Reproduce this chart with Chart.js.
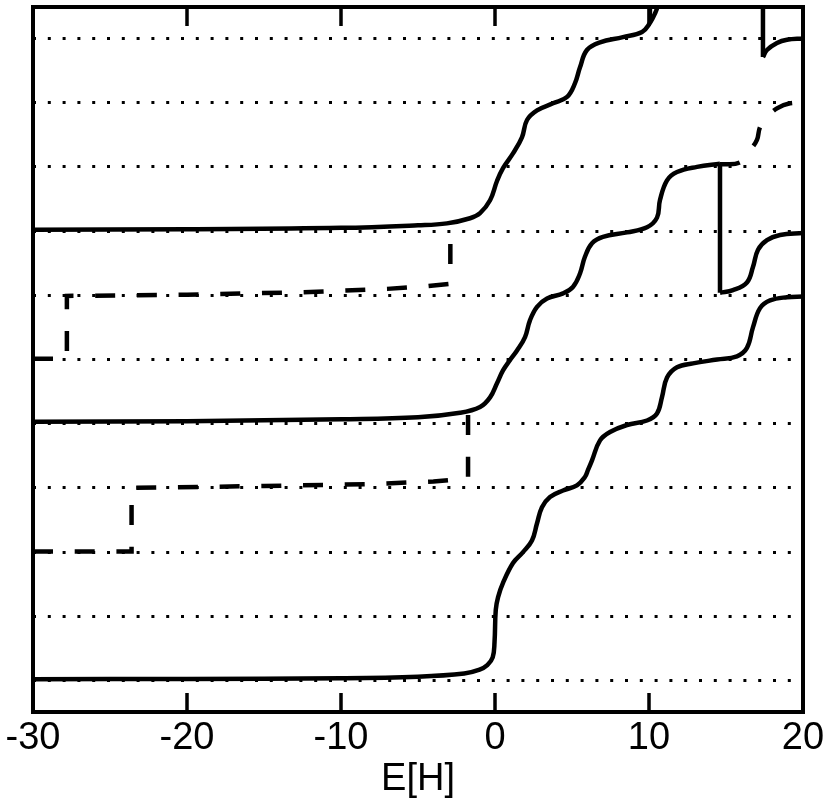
<!DOCTYPE html>
<html>
<head>
<meta charset="utf-8">
<script src="https://cdn.jsdelivr.net/npm/chart.js@4.4.0/dist/chart.umd.min.js"></script>
<style>
    html, body { margin: 0; padding: 0; background: #ffffff; }
</style>
</head>
<body>
<canvas id="chart_fase" width="830" height="809"></canvas>
<script>
// Marcas de los ejes
var xTicks = [-30, -20, -10, 0, 10, 20];
var yNiveles = [0, 1, 2, 3, 4, 5, 6, 7, 8, 9, 10];

// Curva continua de abajo (nivel 0)
var curvaA_x = [-30, -20, -10, -5, -2, -1, -0.5, -0.15, -0.03, 0.05, 0.2, 0.52, 1.17, 1.82, 2.4, 2.73, 3.05, 3.57, 4.42, 5.32, 5.84, 6.04, 6.3, 6.82, 7.47, 8.57, 9.87, 10.52, 10.84, 11.17, 11.82, 12.86, 14.42, 15.71, 16.36, 16.75, 17.21, 17.86, 18.96, 20];
var curvaA_y = [0.02, 0.025, 0.035, 0.06, 0.11, 0.17, 0.24, 0.36, 0.6, 1.1, 1.3, 1.52, 1.83, 2.0, 2.18, 2.45, 2.7, 2.86, 2.96, 3.04, 3.17, 3.28, 3.43, 3.74, 3.87, 3.98, 4.05, 4.16, 4.41, 4.72, 4.88, 4.94, 5.0, 5.05, 5.18, 5.5, 5.8, 5.92, 5.97, 5.98];

// Curva continua del medio (nivel 4), cortada en el salto de E = 14.6
var curvaB_x = [-30, -20, -10, -5, -2.27, -0.97, -0.32, 0.13, 0.52, 0.97, 1.43, 1.95, 2.27, 2.73, 3.38, 4.42, 5.06, 5.52, 5.84, 6.3, 7.01, 8.57, 9.87, 10.52, 10.71, 11.17, 11.82, 13.12, 14.61];
var curvaB_y = [4.03, 4.04, 4.07, 4.1, 4.17, 4.26, 4.41, 4.63, 4.83, 4.99, 5.14, 5.35, 5.61, 5.82, 5.95, 6.03, 6.13, 6.34, 6.6, 6.81, 6.91, 6.98, 7.06, 7.21, 7.48, 7.79, 7.92, 8.0, 8.05];
var saltoB_x = [14.61, 14.61];
var saltoB_y = [8.05, 6.04];
var colaB_x = [14.61, 15.45, 16.36, 16.75, 17.08, 17.66, 18.51, 20];
var colaB_y = [6.04, 6.08, 6.2, 6.44, 6.71, 6.86, 6.94, 6.97];

// Curva continua de arriba (nivel 7), sale por arriba y vuelve a entrar
var curvaC_x = [-30, -20, -10, -5, -3.12, -1.62, -0.97, -0.32, 0.13, 0.52, 1.17, 1.75, 2.08, 2.73, 3.77, 4.68, 5.19, 5.52, 5.97, 6.82, 8.31, 9.55, 10.06, 10.39, 10.58, 10.75];
var curvaC_y = [7.02, 7.03, 7.05, 7.09, 7.12, 7.2, 7.28, 7.48, 7.78, 7.98, 8.21, 8.46, 8.73, 8.88, 8.99, 9.09, 9.3, 9.55, 9.82, 9.94, 10.02, 10.1, 10.24, 10.39, 10.52, 10.8];
var saltoC_x = [10.06, 10.06];
var saltoC_y = [10.24, 10.8];
var colaC_x = [17.4, 17.4];
var colaC_y = [10.8, 9.71];
var finC_x = [17.4, 17.66, 18.31, 18.96, 20];
var finC_y = [9.71, 9.82, 9.93, 9.98, 10.0];

// Curvas discontinuas
var curvaD_x = [-30, -27.8, -27.8, -20, -12, -7, -4.5, -2.9, -2.9];
var curvaD_y = [5.01, 5.01, 5.99, 6.01, 6.05, 6.1, 6.14, 6.18, 7.05];
var colaD_x = [14.61, 15.91, 16.56, 17.01, 17.21, 17.66, 18.31, 19.16, 20];
var colaD_y = [8.04, 8.07, 8.26, 8.42, 8.62, 8.77, 8.91, 8.99, 8.99];
var curvaE_x = [-30, -23.6, -23.6, -15, -8, -4, -1.75, -1.75];
var curvaE_y = [2.01, 2.01, 3.0, 3.03, 3.06, 3.1, 3.15, 4.17];

var fuente = "'Liberation Sans', Arial, sans-serif";
var guion = [20, 21.7];

function unirPuntos(xs, ys) {
    var puntos = [];
    for (var i = 0; i < xs.length; i++) {
        puntos.push({ x: xs[i], y: ys[i] });
    }
    return puntos;
}

function serie(xs, ys, guiones, tension) {
    return {
        data: unirPuntos(xs, ys),
        borderColor: '#000000',
        borderWidth: 4.5,
        borderDash: guiones,
        borderCapStyle: 'butt',
        borderJoinStyle: 'miter',
        pointRadius: 0,
        fill: false,
        tension: tension,
        clip: 0
    };
}

// Marco con las marcas hacia adentro
var marcoPlugin = {
    id: 'marco',
    afterDatasetsDraw: function (chart) {
        var ctx = chart.ctx;
        var area = chart.chartArea;
        var escalaX = chart.scales.x;
        ctx.save();
        ctx.strokeStyle = '#000000';
        ctx.lineWidth = 4;
        ctx.setLineDash([]);
        ctx.strokeRect(area.left, area.top, area.right - area.left, area.bottom - area.top);
        ctx.lineWidth = 3.5;
        for (var i = 1; i < xTicks.length - 1; i++) {
            var px = escalaX.getPixelForValue(xTicks[i]);
            ctx.beginPath();
            ctx.moveTo(px, area.bottom);
            ctx.lineTo(px, area.bottom - 19);
            ctx.moveTo(px, area.top);
            ctx.lineTo(px, area.top + 19);
            ctx.stroke();
        }
        ctx.restore();
    }
};

var config_fase = {
    type: 'line',
    data: {
        datasets: [
            serie(curvaA_x, curvaA_y, [], 0.4),
            serie(curvaB_x, curvaB_y, [], 0.4),
            serie(saltoB_x, saltoB_y, [], 0),
            serie(colaB_x, colaB_y, [], 0.4),
            serie(curvaC_x, curvaC_y, [], 0.4),
            serie(saltoC_x, saltoC_y, [], 0),
            serie(colaC_x, colaC_y, [], 0),
            serie(finC_x, finC_y, [], 0.4),
            serie(curvaD_x, curvaD_y, guion, 0),
            serie(colaD_x, colaD_y, guion, 0.4),
            serie(curvaE_x, curvaE_y, guion, 0)
        ]
    },
    options: {
        responsive: false,
        animation: false,
        layout: {
            padding: { left: 33, right: 27, top: 7, bottom: 0 }
        },
        plugins: {
            legend: { display: false },
            tooltip: { enabled: false }
        },
        scales: {
            x: {
                type: 'linear',
                min: -30,
                max: 20,
                afterBuildTicks: function (axis) {
                    axis.ticks = xTicks.map(function (v) { return { value: v }; });
                },
                afterFit: function (axis) {
                    axis.height = 97;
                },
                grid: { display: false, drawTicks: false },
                border: { display: false },
                ticks: {
                    color: '#000000',
                    padding: 4,
                    maxRotation: 0,
                    autoSkip: false,
                    font: { family: fuente, size: 38 },
                    callback: function (v) { return String(v); }
                },
                title: {
                    display: true,
                    text: 'E[H]',
                    color: '#000000',
                    font: { family: fuente, size: 38 },
                    padding: { top: 0, bottom: 7 }
                }
            },
            y: {
                type: 'linear',
                min: -0.49,
                max: 10.49,
                afterBuildTicks: function (axis) {
                    axis.ticks = yNiveles.map(function (v) { return { value: v }; });
                },
                ticks: { display: false },
                grid: { color: '#000000', lineWidth: 3, drawTicks: false },
                border: { display: false, dash: [3, 11.8] }
            }
        }
    },
    plugins: [marcoPlugin]
};

var canvas_fase = document.getElementById('chart_fase');
var chart_fase = new Chart(canvas_fase, config_fase);
</script>
</body>
</html>
